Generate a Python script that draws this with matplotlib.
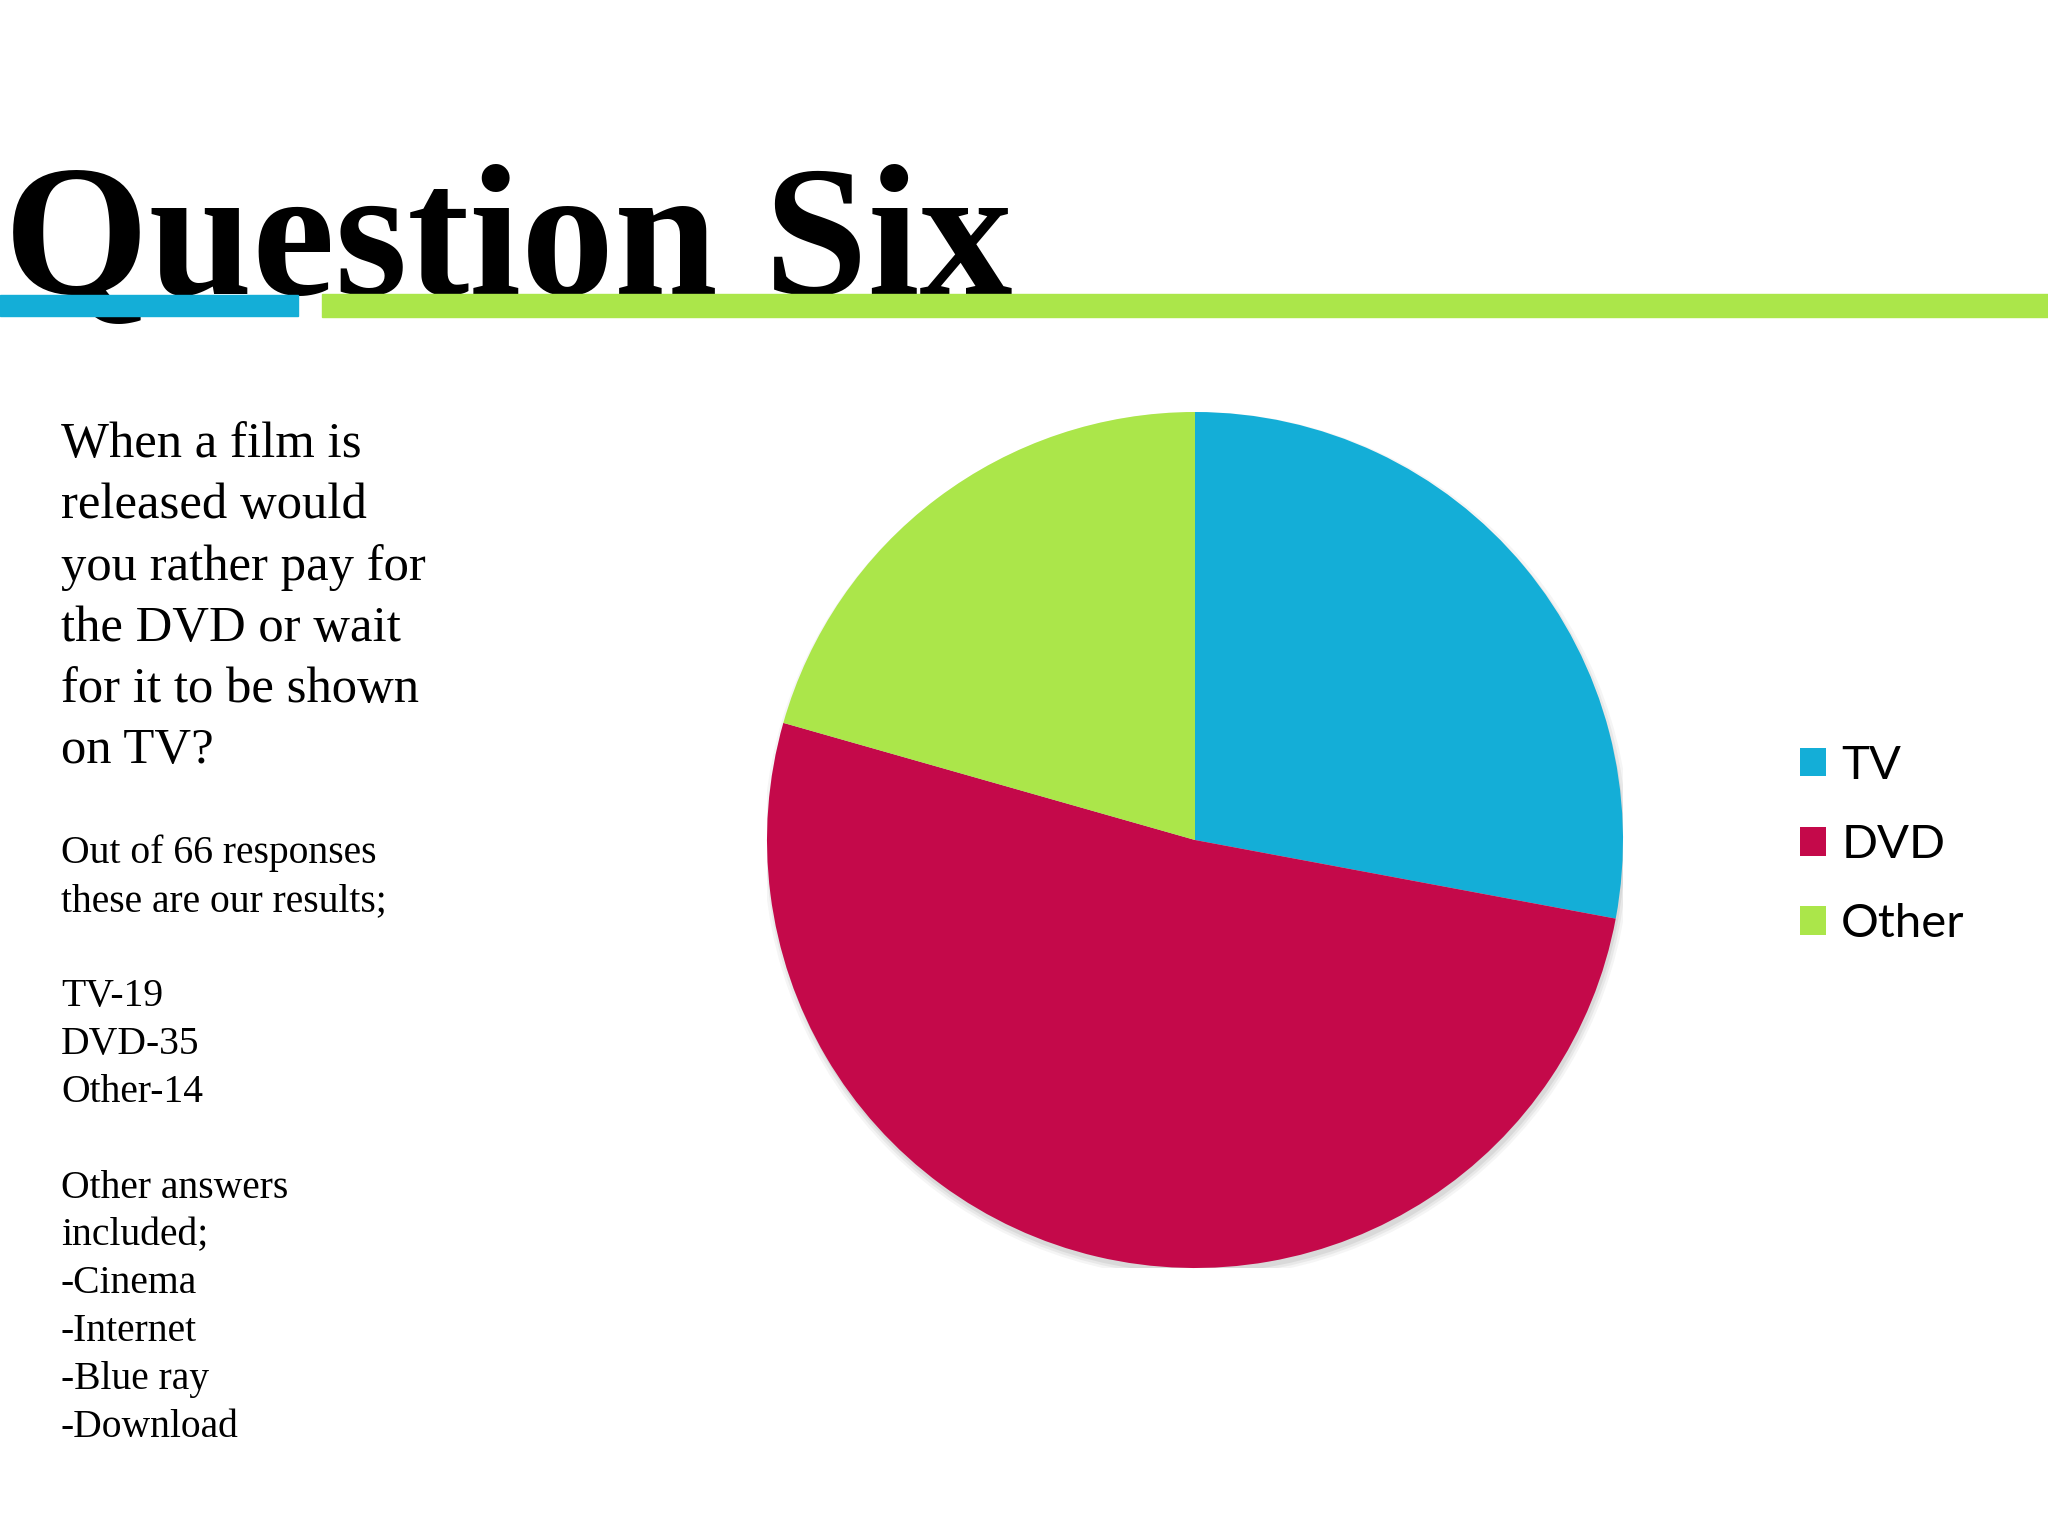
import matplotlib
matplotlib.use('Agg')
import matplotlib.pyplot as plt
from matplotlib.patches import Rectangle, Circle

# data
labels = ['TV', 'DVD', 'Other']
counts = [19, 35, 14]
colors = ['#14AED7', '#C4094A', '#ABE64A']

title = 'Question Six'
question_lines = ['When a film is', 'released would', 'you rather pay for',
                  'the DVD or wait', 'for it to be shown', 'on TV?']
result_lines = ['Out of 66 responses', 'these are our results;', '',
                'TV-19', 'DVD-35', 'Other-14', '',
                'Other answers', 'included;', '-Cinema', '-Internet',
                '-Blue ray', '-Download']

W, H = 2048, 1536
fig = plt.figure(figsize=(W / 100, H / 100), dpi=100)
fig.patch.set_facecolor('white')

# title and the two coloured bars under it
fig.text(4 / W, 1 - 294 / H, title, fontsize=134, family='Liberation Serif',
         fontweight='bold', va='baseline', ha='left', zorder=1)
fig.add_artist(Rectangle((0, 1 - 316 / H), 298 / W, 21 / H, transform=fig.transFigure,
                         color='#14AED7', zorder=2))
fig.add_artist(Rectangle((322 / W, 1 - 317 / H), 1 - 322 / W, 23 / H,
                         transform=fig.transFigure, color='#ABE64A', zorder=2))

# left-hand text
for i, line in enumerate(question_lines):
    fig.text(61 / W, 1 - (457 + i * 61.3) / H, line, fontsize=36.5,
             family='Liberation Serif', va='baseline', ha='left')
for i, line in enumerate(result_lines):
    fig.text(61 / W, 1 - (863 + i * 47.8) / H, line, fontsize=28.5,
             family='Liberation Serif', va='baseline', ha='left')

# pie
cx, cy, r = 1195, 840, 428
ax = fig.add_axes([(cx - r) / W, (H - cy - r) / H, 2 * r / W, 2 * r / H])
ax.axis('off')

# soft shadow under the pie
for k, a in enumerate([0.06, 0.08, 0.10]):
    ax.add_patch(Circle((0.004, -0.012), 1.0 + 0.006 * (2 - k), color='#555555',
                        alpha=a, lw=0, zorder=0))

wedges, _ = ax.pie(counts, colors=colors, startangle=90, counterclock=False,
                   radius=1.0, wedgeprops=dict(linewidth=0))
ax.set_xlim(-1, 1)
ax.set_ylim(-1, 1)

leg = fig.legend(wedges, labels, loc='center left',
                 bbox_to_anchor=(1776 / W, 1 - 845 / H),
                 frameon=False, prop={'family': 'Lato', 'size': 34},
                 handlelength=0.55, handleheight=0.55, handletextpad=0.33,
                 labelspacing=0.79, borderpad=0)

fig.savefig('out.png', dpi=100)
